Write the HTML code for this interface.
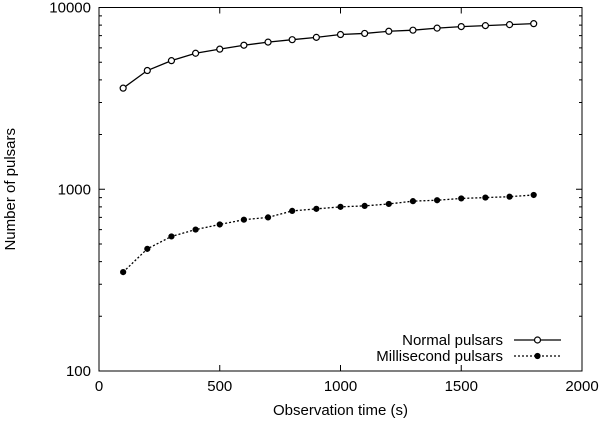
<!DOCTYPE html>
<html><head><meta charset="utf-8"><style>
body{margin:0;background:#fff}
svg text{font-family:"Liberation Sans",sans-serif;font-size:15px;fill:#000}
</style></head><body>
<svg id="chart" width="605" height="425"></svg>
<script>
const xValues=[100,200,300,400,500,600,700,800,900,1000,1100,1200,1300,1400,1500,1600,1700,1800];
const normalValues=[3600,4500,5100,5600,5900,6200,6450,6650,6850,7100,7200,7400,7500,7700,7850,7950,8050,8150];
const msValues=[350,470,550,600,640,680,700,760,780,800,810,830,860,870,890,900,910,930];
const xTicks=[0,500,1000,1500,2000];
const yTicks=[100,1000,10000];
const NS="http://www.w3.org/2000/svg";
const svg=document.getElementById('chart');
const L=99,R=582,T=7.5,B=371;
const X=v=>L+(v/2000)*(R-L);
const Y=v=>B-(Math.log10(v)-2)/2*(B-T);
function mk(tag,attrs,parent){const e=document.createElementNS(NS,tag);for(const k in attrs)e.setAttribute(k,attrs[k]);(parent||svg).appendChild(e);return e;}
const frame=mk('rect',{x:L,y:T,width:R-L,height:B-T,fill:'none',stroke:'#000','stroke-width':1});


xTicks.forEach(t=>{
  const l=mk('path',{d:`M${X(t)},${B}v-6M${X(t)},${T}v6`,stroke:'#000'});
  
  
  const tx=mk('text',{x:X(t),y:B+20,'text-anchor':'middle'});tx.textContent=t;
  
  
});
yTicks.forEach(t=>{
  const l=mk('path',{d:`M${L},${Y(t)}h6M${R},${Y(t)}h-6`,stroke:'#000'});
  
  
  const tx=mk('text',{x:L-8,y:Y(t)+5,'text-anchor':'end'});tx.textContent=t;
  
  
});
for(let d=100;d<10000;d*=10){for(let m=2;m<10;m++){
  const v=d*m;
  const l=mk('path',{d:`M${L},${Y(v)}h3M${R},${Y(v)}h-3`,stroke:'#000'});
  
  
}}
const xt=mk('text',{x:(L+R)/2,y:415,'text-anchor':'middle'});xt.textContent='Observation time (s)';


const yt=mk('text',{x:0,y:0,'text-anchor':'middle',transform:`translate(15,${(T+B)/2}) rotate(-90)`});yt.textContent='Number of pulsars';


function series(vals,dash,filled,name){
  const p=mk('polyline',{points:vals.map((v,i)=>X(xValues[i])+','+Y(v)).join(' '),fill:'none',stroke:'#000','stroke-width':1.3,'stroke-dasharray':dash});
  
  
  vals.forEach((v,i)=>{
    const c=mk('circle',{cx:X(xValues[i]),cy:Y(v),r:filled?2.5:3,fill:filled?'#000':'#fff',stroke:'#000','stroke-width':1.2});
    
    
  });
}
series(normalValues,'none',false,'normal');
series(msValues,'2,2',true,'millisecond');
function legend(y,label,dash,filled,name){
  const t=mk('text',{x:503,y:y+5,'text-anchor':'end'});t.textContent=label;
  
  
  const l=mk('path',{d:`M514,${y}H561`,stroke:'#000','stroke-width':1.3,'stroke-dasharray':dash});
  
  
  const c=mk('circle',{cx:537.5,cy:y,r:filled?2.5:3,fill:filled?'#000':'#fff',stroke:'#000','stroke-width':1.2});
  
  
}
legend(340,'Normal pulsars','none',false,'normal');
legend(356,'Millisecond pulsars','2,2',true,'millisecond');
</script>
</body></html>
